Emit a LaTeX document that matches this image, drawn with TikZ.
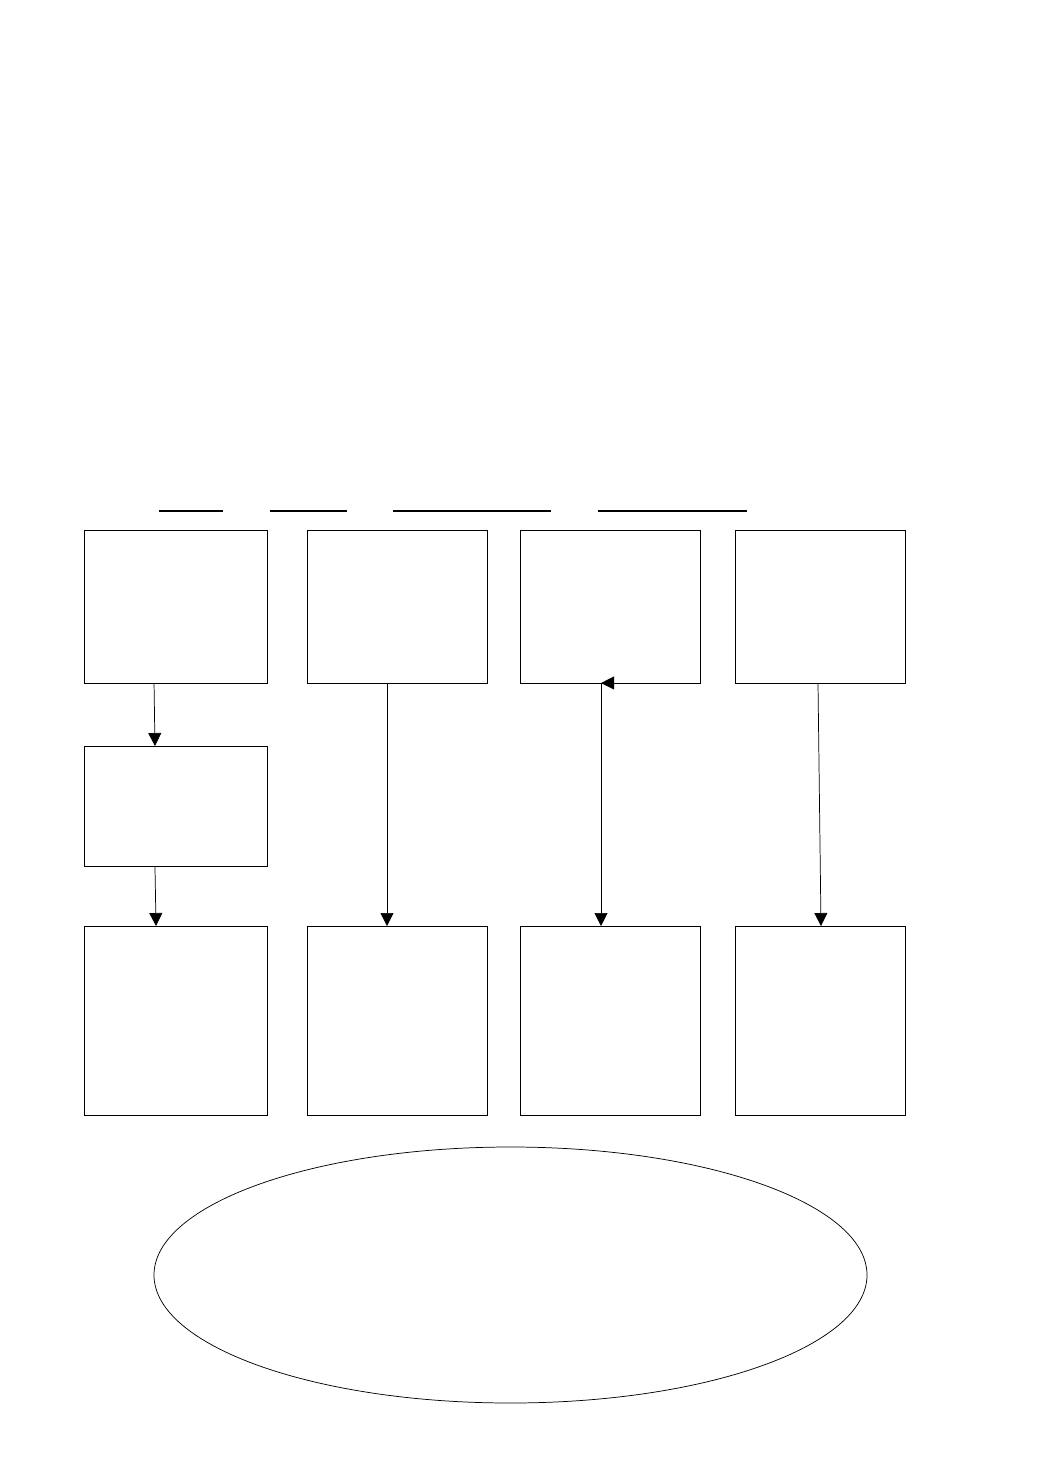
\documentclass[tikz,border=0pt]{standalone}
\usetikzlibrary{arrows.meta, shapes.geometric}

\begin{document}
\begin{tikzpicture}[
    x=0.75pt, y=-0.75pt,
    line width=0.65pt,
    box/.style={draw,rectangle,inner sep=0pt,outer sep=0pt,minimum height=114.75pt},
    tall/.style={box,minimum height=141.75pt},
    oval/.style={draw,ellipse,inner sep=0pt,line width=0.55pt,minimum width=534.75pt,minimum height=192pt},
    blank/.style={draw,line width=0.8pt},
    link/.style={draw,line width=0.55pt,-{Triangle[length=9.75pt,width=9.75pt]}}]
  \useasboundingbox (0,0) rectangle (1040,1473);
  % blanks above the columns
  \coordinate (b1l) at (159,511); \coordinate (b1r) at (223,511);
  \coordinate (b2l) at (270,511); \coordinate (b2r) at (347,511);
  \coordinate (b3l) at (393,511); \coordinate (b3r) at (551,511);
  \coordinate (b4l) at (598,511); \coordinate (b4r) at (747,511);
  \draw[blank] (b1l) -- (b1r);
  \draw[blank] (b2l) -- (b2r);
  \draw[blank] (b3l) -- (b3r);
  \draw[blank] (b4l) -- (b4r);
  % top row
  \node[box,minimum width=137.25pt] (top1) at (175.5,606.5) {};
  \node[box,minimum width=135pt] (top2) at (397,606.5) {};
  \node[box,minimum width=135pt] (top3) at (610,606.5) {};
  \node[box,minimum width=127.5pt] (top4) at (820,606.5) {};
  % middle
  \node[box,minimum width=137.25pt,minimum height=90pt] (mid) at (175.5,806) {};
  % bottom row
  \node[tall,minimum width=137.25pt] (bot1) at (175.5,1020.5) {};
  \node[tall,minimum width=135pt] (bot2) at (397,1020.5) {};
  \node[tall,minimum width=135pt] (bot3) at (610,1020.5) {};
  \node[tall,minimum width=127.5pt] (bot4) at (820,1020.5) {};
  % ellipse
  \node[oval] (summary) at (510.5,1275) {};
  % arrows
  \path[link] ([xshift=-16.1pt]top1.south) -- ([xshift=-15.4pt]mid.north);
  \path[link] ([xshift=-15.4pt]mid.south) -- ([xshift=-14.6pt]bot1.north);
  \path[link] ([xshift=-7.5pt]top2.south) -- ([xshift=-7.5pt]bot2.north);
  \path[link] ([xshift=-6.75pt]top3.south) -- ([xshift=-6.75pt]bot3.north);
  \path[link] ([xshift=-1.5pt]top4.south) -- ([xshift=0.75pt]bot4.north);
  \fill ([xshift=-6.75pt]top3.south) -- ++(9.75pt,4.9pt) -- ++(0pt,-9.8pt) -- cycle;
\end{tikzpicture}
\end{document}
